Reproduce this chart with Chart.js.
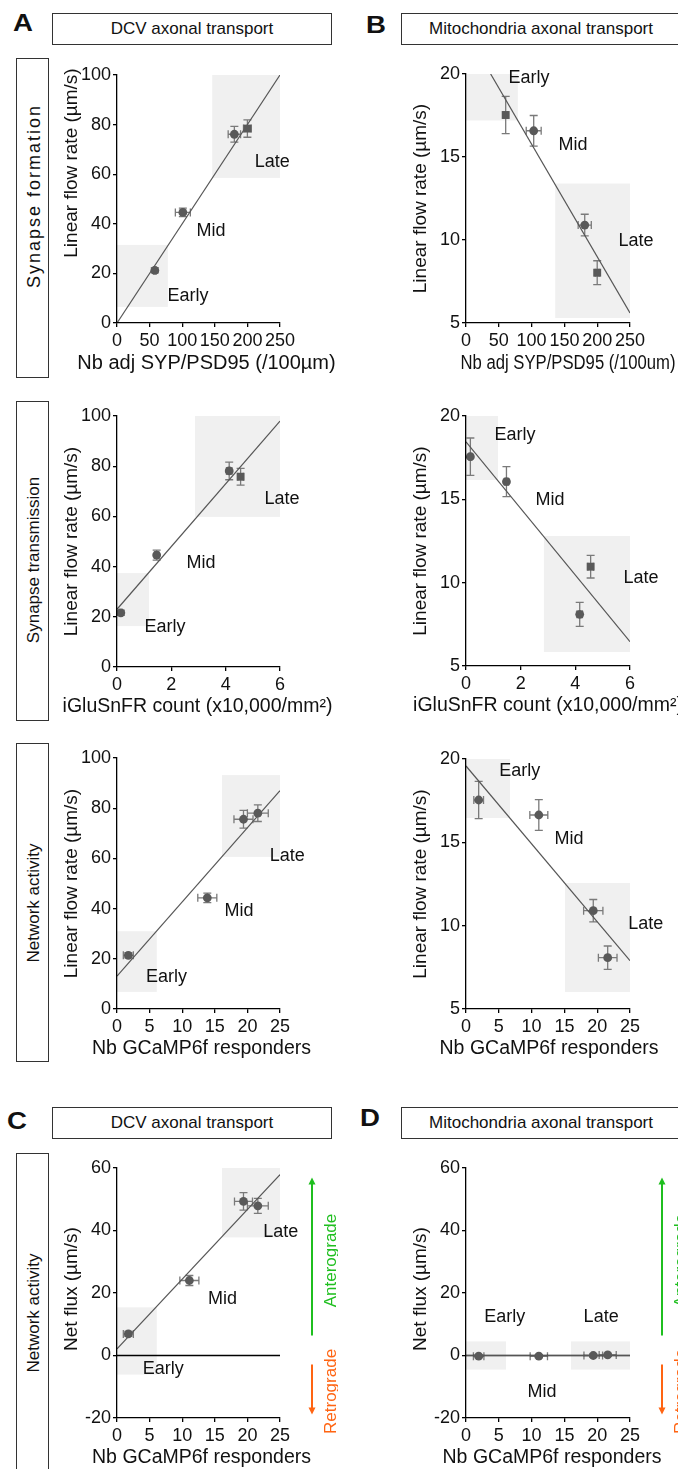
<!DOCTYPE html>
<html>
<head>
<meta charset="utf-8">
<script src="https://cdn.jsdelivr.net/npm/chart.js@4.4.1/dist/chart.umd.min.js"></script>
<style>
html,body{margin:0;padding:0;background:#fff;}
body{position:relative;width:678px;height:1469px;overflow:hidden;font-family:"Liberation Sans",Arial,Helvetica,sans-serif;color:#111;}
.hdr{position:absolute;box-sizing:border-box;border:1.3px solid #333;height:32px;display:flex;align-items:center;justify-content:center;font-size:17px;white-space:nowrap;}
.rowbox{position:absolute;box-sizing:border-box;border:1.3px solid #333;left:16px;width:33px;}
.rowtxt{position:absolute;transform:translate(-50%,-50%) rotate(-90deg);white-space:nowrap;font-size:17px;}
.letter{position:absolute;font-weight:bold;font-size:23px;line-height:1;transform-origin:0 0;transform:scaleX(1.2);}
canvas{position:absolute;}
</style>
</head>
<body>
<div class="letter" style="left:13px;top:12px;">A</div>
<div class="letter" style="left:366px;top:14px;">B</div>
<div class="letter" style="left:7px;top:1110px;">C</div>
<div class="letter" style="left:360px;top:1107px;">D</div>

<div class="hdr" style="left:52px;top:13px;width:280px;">DCV axonal transport</div>
<div class="hdr" style="left:401px;top:13px;width:280px;">Mitochondria axonal transport</div>
<div class="hdr" style="left:52px;top:1107px;width:280px;">DCV axonal transport</div>
<div class="hdr" style="left:401px;top:1107px;width:280px;">Mitochondria axonal transport</div>

<div class="rowbox" style="top:58px;height:320px;"></div>
<div class="rowtxt" style="left:33.5px;top:196px;font-size:18px;letter-spacing:2px;">Synapse formation</div>
<div class="rowbox" style="top:401px;height:320px;"></div>
<div class="rowtxt" style="left:33.5px;top:560px;">Synapse transmission</div>
<div class="rowbox" style="top:743px;height:319px;"></div>
<div class="rowtxt" style="left:33.5px;top:903px;">Network activity</div>
<div class="rowbox" style="top:1153px;height:330px;"></div>
<div class="rowtxt" style="left:33.5px;top:1313px;">Network activity</div>

<script>
// ---------------- DATA ----------------
const stageNames = ['Early', 'Mid', 'Late'];

// A1: DCV vs synapse formation
const a1X = [58, 101, 180, 200];
const a1Y = [21.2, 44.6, 76.1, 78.4];
const a1XErr = [2, 11.5, 9.5, 6];
const a1YErr = [1, 1.7, 3.2, 3.5];
const a1Shape = ['circle', 'circle', 'circle', 'rect'];
const a1Fit = [[0, 0], [250, 100]];
const a1Shades = [[0, 78, 6.5, 31.5], [146, 250, 58.5, 100]];

// B1: Mitochondria vs synapse formation
const b1X = [60.5, 103.2, 181, 200];
const b1Y = [17.53, 16.58, 10.9, 8.03];
const b1XErr = [3, 11.4, 10, 3];
const b1YErr = [1.12, 0.92, 0.65, 0.72];
const b1Shape = ['rect', 'circle', 'circle', 'rect'];
const b1Fit = [[37.6, 20], [250, 5.6]];
const b1Shades = [[0, 79, 17.2, 20], [136, 250, 5.3, 13.4]];

// A2: DCV vs synapse transmission
const a2X = [0.14, 1.46, 4.13, 4.55];
const a2Y = [21.6, 44.6, 78.1, 75.8];
const a2XErr = [0.05, 0.08, 0.1, 0.1];
const a2YErr = [1, 2, 3.5, 3.3];
const a2Shape = ['circle', 'circle', 'circle', 'rect'];
const a2Fit = [[0, 23], [6, 98]];
const a2Shades = [[0, 1.18, 16.3, 37.4], [2.87, 6, 59.8, 100]];

// B2: Mitochondria vs synapse transmission
const b2X = [0.16, 1.48, 4.56, 4.16];
const b2Y = [17.56, 16.06, 10.96, 8.1];
const b2XErr = [0.05, 0.08, 0.1, 0.1];
const b2YErr = [1.12, 0.9, 0.68, 0.72];
const b2Shape = ['circle', 'circle', 'rect', 'circle'];
const b2Fit = [[0, 18.45], [6, 6.46]];
const b2Shades = [[0, 1.17, 16.16, 20], [2.85, 6, 5.84, 12.8]];

// A3: DCV vs network activity
const a3X = [1.74, 13.85, 19.4, 21.6];
const a3Y = [21.4, 44.3, 75.6, 78];
const a3XErr = [0.77, 1.46, 1.46, 1.6];
const a3YErr = [1, 1.9, 3.5, 3.3];
const a3Shape = ['circle', 'circle', 'circle', 'circle'];
const a3Fit = [[0, 13.1], [25, 87]];
const a3Shades = [[0, 6.1, 6.8, 31], [16.1, 25, 60.6, 93.2]];

// B3: Mitochondria vs network activity
const b3X = [1.93, 11.1, 19.4, 21.6];
const b3Y = [17.54, 16.64, 10.9, 8.08];
const b3XErr = [0.74, 1.37, 1.47, 1.42];
const b3YErr = [1.12, 0.92, 0.67, 0.7];
const b3Shape = ['circle', 'circle', 'circle', 'circle'];
const b3Fit = [[0, 19.58], [25, 7.9]];
const b3Shades = [[0, 6.7, 16.46, 20], [15.1, 25, 6.02, 12.56]];

// C: DCV net flux vs network activity
const cX = [1.74, 11.1, 19.4, 21.6];
const cY = [6.9, 24, 49.3, 47.9];
const cXErr = [0.77, 1.46, 1.38, 1.6];
const cYErr = [0.8, 1.6, 2.8, 2.4];
const cShape = ['circle', 'circle', 'circle', 'circle'];
const cFit = [[0, 2.1], [25, 57.9]];
const cShades = [[0, 6.1, -6.1, 15.4], [16.1, 25, 37.8, 60]];

// D: Mitochondria net flux vs network activity
const dX = [1.93, 11.1, 19.4, 21.6];
const dY = [-0.2, -0.2, 0, 0.2];
const dXErr = [0.8, 1.32, 1.42, 1.3];
const dYErr = [0.5, 0.5, 0.5, 0.5];
const dShape = ['circle', 'circle', 'circle', 'circle'];
const dFit = [[0, 0], [25, 0]];
const dShades = [[0, 6.1, -4.5, 4.5], [16, 25, -4.5, 4.5]];

// Axis tick settings
const synFormTicks = {min: 0, max: 250, step: 50};
const gluTicks = {min: 0, max: 6, step: 2};
const gcampTicks = {min: 0, max: 25, step: 5};
const dcvRateTicks = {min: 0, max: 100, step: 20};
const mitoRateTicks = {min: 5, max: 20, step: 5};
const fluxTicks = {min: -20, max: 60, step: 20};

// ---------------- RENDERING ----------------
const FONT = '"Liberation Sans", Arial, Helvetica, sans-serif';
Chart.defaults.font.family = FONT;
Chart.defaults.color = '#111';

const decor = {
  id: 'decor',
  beforeDatasetsDraw(chart, args, o) {
    const {ctx, scales: {x, y}} = chart;
    ctx.save();
    ctx.fillStyle = '#f0f0f0';
    for (const b of o.shades) {
      const x0 = x.getPixelForValue(b[0]), x1 = x.getPixelForValue(b[1]);
      const y0 = y.getPixelForValue(b[2]), y1 = y.getPixelForValue(b[3]);
      ctx.fillRect(x0, y1, x1 - x0, y0 - y1);
    }
    ctx.strokeStyle = '#7a7a7a';
    ctx.lineWidth = 1.3;
    const cap = 4;
    o.xs.forEach((xv, i) => {
      const px = x.getPixelForValue(xv), py = y.getPixelForValue(o.ys[i]);
      const xl = x.getPixelForValue(xv - o.xe[i]), xr = x.getPixelForValue(xv + o.xe[i]);
      const yt = y.getPixelForValue(o.ys[i] + o.ye[i]), yb = y.getPixelForValue(o.ys[i] - o.ye[i]);
      ctx.beginPath();
      ctx.moveTo(xl, py); ctx.lineTo(xr, py);
      ctx.moveTo(xl, py - cap); ctx.lineTo(xl, py + cap);
      ctx.moveTo(xr, py - cap); ctx.lineTo(xr, py + cap);
      ctx.moveTo(px, yt); ctx.lineTo(px, yb);
      ctx.moveTo(px - cap, yt); ctx.lineTo(px + cap, yt);
      ctx.moveTo(px - cap, yb); ctx.lineTo(px + cap, yb);
      ctx.stroke();
    });
    ctx.restore();
  },
  afterDatasetsDraw(chart, args, o) {
    const {ctx, scales: {x, y}} = chart;
    ctx.save();
    ctx.fillStyle = '#111';
    ctx.font = '18px ' + FONT;
    ctx.textAlign = 'center';
    ctx.textBaseline = 'middle';
    o.labelAt.forEach((p, i) => {
      ctx.fillText(stageNames[i], x.getPixelForValue(p[0]), y.getPixelForValue(p[1]));
    });
    ctx.restore();
  },
  afterDraw(chart, args, o) {
    const {ctx, chartArea: a, scales: {y}} = chart;
    ctx.save();
    ctx.fillStyle = '#111';
    ctx.textAlign = 'center';
    ctx.textBaseline = 'middle';
    // x axis title
    ctx.font = o.xTitleSize + 'px ' + FONT;
    const cx = (a.left + a.right) / 2 + o.xTitleDx, cy = a.bottom + 40;
    if (o.xTitleMax) ctx.fillText(o.xTitle, cx, cy, o.xTitleMax);
    else ctx.fillText(o.xTitle, cx, cy);
    // y axis title
    ctx.save();
    ctx.font = '19px ' + FONT;
    ctx.translate(a.left - 45.5, (a.top + a.bottom) / 2 + o.yTitleDy);
    ctx.rotate(-Math.PI / 2);
    ctx.fillText(o.yTitle, 0, 0);
    ctx.restore();
    if (o.arrows) {
      const ax = a.right + 32;
      const head = (xx, yy, dir, col) => {
        ctx.fillStyle = col;
        ctx.beginPath();
        ctx.moveTo(xx, yy);
        ctx.lineTo(xx - 3.5, yy - dir * 7);
        ctx.lineTo(xx + 3.5, yy - dir * 7);
        ctx.closePath();
        ctx.fill();
      };
      ctx.lineWidth = 2;
      const g = '#1fbf1f', r = '#ff6412';
      ctx.strokeStyle = g;
      ctx.beginPath();
      ctx.moveTo(ax, y.getPixelForValue(6.4));
      ctx.lineTo(ax, y.getPixelForValue(57) + 5);
      ctx.stroke();
      head(ax, y.getPixelForValue(57), -1, g);
      ctx.strokeStyle = r;
      ctx.beginPath();
      ctx.moveTo(ax, y.getPixelForValue(-2.9));
      ctx.lineTo(ax, y.getPixelForValue(-18.9) - 5);
      ctx.stroke();
      head(ax, y.getPixelForValue(-18.9), 1, r);
      ctx.font = '17px ' + FONT;
      const tx = a.right + 51;
      [['Anterograde', 30.4, g], ['Retrograde', -11.5, r]].forEach(([t, v, c]) => {
        ctx.save();
        ctx.fillStyle = c;
        ctx.translate(tx, y.getPixelForValue(v));
        ctx.rotate(-Math.PI / 2);
        ctx.fillText(t, 0, 0);
        ctx.restore();
      });
    }
    ctx.restore();
  }
};

function makePanel(p) {
  const canvas = document.createElement('canvas');
  canvas.width = p.w; canvas.height = p.h;
  canvas.style.left = p.left + 'px'; canvas.style.top = p.top + 'px';
  canvas.style.width = p.w + 'px'; canvas.style.height = p.h + 'px';
  document.body.appendChild(canvas);
  const pts = p.xs.map((v, i) => ({x: v, y: p.ys[i]}));
  const datasets = [
    {type: 'scatter', data: pts, pointStyle: p.shape,
     pointRadius: p.shape.map(s => s === 'rect' ? 5.6 : 4.4),
     pointHoverRadius: p.shape.map(s => s === 'rect' ? 5.6 : 4.4),
     backgroundColor: '#595959', borderWidth: 0, order: 0},
    {type: 'line', data: p.fit.map(f => ({x: f[0], y: f[1]})), borderColor: '#555',
     borderWidth: 1.2, pointRadius: 0, showLine: true, fill: false, order: 1}
  ];
  if (p.zero) {
    datasets.push({type: 'line', data: [{x: p.xt.min, y: 0}, {x: p.xt.max, y: 0}], borderColor: '#000',
      borderWidth: 1.4, pointRadius: 0, showLine: true, fill: false, order: 2, clip: false});
  }
  const axisCommon = {
    grid: {display: true, drawOnChartArea: false, drawTicks: true, tickLength: 4,
           color: '#000', tickColor: '#000', lineWidth: 1.3, tickWidth: 1.3},
    border: {display: true, color: '#000', width: 1.3, z: 1}
  };
  new Chart(canvas, {
    type: 'scatter',
    data: {datasets},
    options: {
      responsive: false, animation: false, events: [],
      layout: {padding: {left: 0, top: 20, right: p.w - (p.R - p.left), bottom: 0}},
      plugins: {
        legend: {display: false}, tooltip: {enabled: false},
        decor: {shades: p.shades, xs: p.xs, ys: p.ys, xe: p.xe, ye: p.ye, labelAt: p.labelAt,
                xTitle: p.xTitle, xTitleSize: p.xTitleSize, xTitleDx: p.xTitleDx || 0,
                xTitleMax: p.xTitleMax || 0, yTitle: p.yTitle, yTitleDy: p.yTitleDy || 0,
                arrows: !!p.arrows}
      },
      scales: {
        x: Object.assign({type: 'linear', min: p.xt.min, max: p.xt.max,
          ticks: {stepSize: p.xt.step, font: {size: 18}, color: '#111', padding: 3, maxRotation: 0, autoSkip: false},
          afterFit(s) { s.height = 60; }}, axisCommon),
        y: Object.assign({type: 'linear', min: p.yt.min, max: p.yt.max,
          ticks: {stepSize: p.yt.step, font: {size: 18}, color: '#111', padding: 2, autoSkip: false},
          afterFit(s) { s.width = 57; }}, axisCommon)
      }
    },
    plugins: [decor]
  });
}

const rateTitle = 'Linear flow rate (\u00b5m/s)';
const fluxTitle = 'Net flux (\u00b5m/s)';

makePanel({left: 60, top: 55, w: 278, h: 328, R: 280, xs: a1X, ys: a1Y, xe: a1XErr, ye: a1YErr, shape: a1Shape,
  fit: a1Fit, shades: a1Shades, xt: synFormTicks, yt: dcvRateTicks, yTitle: rateTitle, yTitleDy: -36,
  xTitle: 'Nb adj SYP/PSD95 (/100\u00b5m)', xTitleSize: 20, xTitleDx: 8,
  labelAt: [[109, 11], [144, 37], [238, 65]]});
makePanel({left: 409, top: 54, w: 269, h: 329, R: 630, xs: b1X, ys: b1Y, xe: b1XErr, ye: b1YErr, shape: b1Shape,
  fit: b1Fit, shades: b1Shades, xt: synFormTicks, yt: mitoRateTicks, yTitle: rateTitle,
  xTitle: 'Nb adj SYP/PSD95 (/100um)', xTitleSize: 20, xTitleDx: 20, xTitleMax: 215,
  labelAt: [[96, 19.75], [163, 15.7], [259, 9.95]]});
makePanel({left: 60, top: 396, w: 278, h: 331, R: 280, xs: a2X, ys: a2Y, xe: a2XErr, ye: a2YErr, shape: a2Shape,
  fit: a2Fit, shades: a2Shades, xt: gluTicks, yt: dcvRateTicks, yTitle: rateTitle,
  xTitle: 'iGluSnFR count (x10,000/mm\u00b2)', xTitleSize: 19.5, xTitleDx: -1,
  labelAt: [[1.77, 16], [3.09, 41.4], [6.07, 67]]});
makePanel({left: 409, top: 396, w: 269, h: 330, R: 630, xs: b2X, ys: b2Y, xe: b2XErr, ye: b2YErr, shape: b2Shape,
  fit: b2Fit, shades: b2Shades, xt: gluTicks, yt: mitoRateTicks, yTitle: rateTitle,
  xTitle: 'iGluSnFR count (x10,000/mm\u00b2)', xTitleSize: 19.5, xTitleDx: 0,
  labelAt: [[1.79, 18.86], [3.07, 14.96], [6.4, 10.3]]});
makePanel({left: 60, top: 738, w: 278, h: 331, R: 280, xs: a3X, ys: a3Y, xe: a3XErr, ye: a3YErr, shape: a3Shape,
  fit: a3Fit, shades: a3Shades, xt: gcampTicks, yt: dcvRateTicks, yTitle: rateTitle,
  xTitle: 'Nb GCaMP6f responders', xTitleSize: 19.5, xTitleDx: 3,
  labelAt: [[7.6, 12.7], [18.7, 39], [26.1, 61]]});
makePanel({left: 409, top: 739, w: 269, h: 330, R: 630, xs: b3X, ys: b3Y, xe: b3XErr, ye: b3YErr, shape: b3Shape,
  fit: b3Fit, shades: b3Shades, xt: gcampTicks, yt: mitoRateTicks, yTitle: rateTitle,
  xTitle: 'Nb GCaMP6f responders', xTitleSize: 19.5, xTitleDx: 1,
  labelAt: [[8.2, 19.3], [15.7, 15.2], [27.4, 10.1]]});
makePanel({left: 60, top: 1148, w: 278, h: 330, R: 280, xs: cX, ys: cY, xe: cXErr, ye: cYErr, shape: cShape,
  fit: cFit, shades: cShades, xt: gcampTicks, yt: fluxTicks, yTitle: fluxTitle, yTitleDy: -4, zero: true, arrows: true,
  xTitle: 'Nb GCaMP6f responders', xTitleSize: 19.5, xTitleDx: 3,
  labelAt: [[7.1, -4.2], [16.2, 18.2], [25.1, 39.4]]});
makePanel({left: 409, top: 1148, w: 269, h: 330, R: 630, xs: dX, ys: dY, xe: dXErr, ye: dYErr, shape: dShape,
  fit: dFit, shades: dShades, xt: gcampTicks, yt: fluxTicks, yTitle: fluxTitle, yTitleDy: -4, zero: true, arrows: true,
  xTitle: 'Nb GCaMP6f responders', xTitleSize: 19.5, xTitleDx: 4,
  labelAt: [[5.9, 12.2], [11.6, -11.8], [20.6, 12.2]]});
</script>
</body>
</html>
